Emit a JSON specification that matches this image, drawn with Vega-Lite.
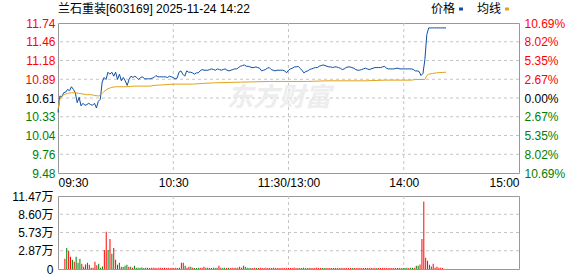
{
  "$schema": "https://vega.github.io/schema/vega-lite/v6.json",
  "autosize": {"type": "pad"},
  "padding": {"left": 11, "top": 2, "right": 0, "bottom": 0},
  "background": "white",
  "config": {
    "font": "Liberation Sans, Noto Sans CJK SC",
    "view": {"stroke": "#999999", "strokeWidth": 1},
    "axis": {"labelFont": "Liberation Sans, Noto Sans CJK SC", "labelFontSize": 12, "ticks": false, "domain": false, "labelOverlap": false, "grid": false},
    "concat": {"spacing": 0}
  },
  "resolve": {"scale": {"color": "independent"}, "legend": {"color": "independent"}},
  "datasets": {
    "lines": [
      {"t":0,"v":10.39,"s":"价格"},{"t":1,"v":10.64,"s":"价格"},{"t":2,"v":10.63,"s":"价格"},{"t":3,"v":10.69,"s":"价格"},{"t":4,"v":10.70,"s":"价格"},{"t":5,"v":10.74,"s":"价格"},{"t":6,"v":10.72,"s":"价格"},{"t":7,"v":10.78,"s":"价格"},{"t":8,"v":10.74,"s":"价格"},{"t":9,"v":10.69,"s":"价格"},
      {"t":10,"v":10.54,"s":"价格"},{"t":11,"v":10.62,"s":"价格"},{"t":12,"v":10.49,"s":"价格"},{"t":13,"v":10.53,"s":"价格"},{"t":14,"v":10.50,"s":"价格"},{"t":15,"v":10.51,"s":"价格"},{"t":16,"v":10.53,"s":"价格"},{"t":17,"v":10.51,"s":"价格"},{"t":18,"v":10.50,"s":"价格"},{"t":19,"v":10.53,"s":"价格"},
      {"t":20,"v":10.46,"s":"价格"},{"t":21,"v":10.56,"s":"价格"},{"t":22,"v":10.59,"s":"价格"},{"t":23,"v":10.85,"s":"价格"},{"t":24,"v":10.92,"s":"价格"},{"t":25,"v":10.89,"s":"价格"},{"t":26,"v":11.00,"s":"价格"},{"t":27,"v":10.97,"s":"价格"},{"t":28,"v":11.00,"s":"价格"},{"t":29,"v":10.94,"s":"价格"},
      {"t":30,"v":11.00,"s":"价格"},{"t":31,"v":10.89,"s":"价格"},{"t":32,"v":10.97,"s":"价格"},{"t":33,"v":10.87,"s":"价格"},{"t":34,"v":10.92,"s":"价格"},{"t":35,"v":10.87,"s":"价格"},{"t":36,"v":10.80,"s":"价格"},{"t":37,"v":10.89,"s":"价格"},{"t":38,"v":10.94,"s":"价格"},{"t":39,"v":10.92,"s":"价格"},
      {"t":40,"v":10.94,"s":"价格"},{"t":41,"v":10.92,"s":"价格"},{"t":42,"v":10.89,"s":"价格"},{"t":43,"v":10.92,"s":"价格"},{"t":44,"v":10.93,"s":"价格"},{"t":45,"v":10.90,"s":"价格"},{"t":46,"v":10.90,"s":"价格"},{"t":47,"v":10.90,"s":"价格"},{"t":48,"v":10.90,"s":"价格"},{"t":49,"v":10.91,"s":"价格"},
      {"t":50,"v":10.92,"s":"价格"},{"t":51,"v":10.95,"s":"价格"},{"t":52,"v":10.93,"s":"价格"},{"t":53,"v":10.93,"s":"价格"},{"t":54,"v":10.93,"s":"价格"},{"t":55,"v":10.93,"s":"价格"},{"t":56,"v":10.93,"s":"价格"},{"t":57,"v":10.92,"s":"价格"},{"t":58,"v":10.94,"s":"价格"},{"t":59,"v":10.93,"s":"价格"},
      {"t":60,"v":10.92,"s":"价格"},{"t":61,"v":10.90,"s":"价格"},{"t":62,"v":10.91,"s":"价格"},{"t":63,"v":11.00,"s":"价格"},{"t":64,"v":11.02,"s":"价格"},{"t":65,"v":10.97,"s":"价格"},{"t":66,"v":10.94,"s":"价格"},{"t":67,"v":11.02,"s":"价格"},{"t":68,"v":11.00,"s":"价格"},{"t":69,"v":11.00,"s":"价格"},
      {"t":70,"v":10.99,"s":"价格"},{"t":71,"v":10.97,"s":"价格"},{"t":72,"v":10.99,"s":"价格"},{"t":73,"v":10.99,"s":"价格"},{"t":74,"v":11.02,"s":"价格"},{"t":75,"v":11.04,"s":"价格"},{"t":76,"v":11.03,"s":"价格"},{"t":77,"v":11.03,"s":"价格"},{"t":78,"v":11.03,"s":"价格"},{"t":79,"v":11.04,"s":"价格"},
      {"t":80,"v":11.05,"s":"价格"},{"t":81,"v":11.04,"s":"价格"},{"t":82,"v":11.03,"s":"价格"},{"t":83,"v":11.05,"s":"价格"},{"t":84,"v":11.04,"s":"价格"},{"t":85,"v":11.03,"s":"价格"},{"t":86,"v":11.04,"s":"价格"},{"t":87,"v":11.05,"s":"价格"},{"t":88,"v":11.03,"s":"价格"},{"t":89,"v":11.02,"s":"价格"},
      {"t":90,"v":11.03,"s":"价格"},{"t":91,"v":11.04,"s":"价格"},{"t":92,"v":11.05,"s":"价格"},{"t":93,"v":11.05,"s":"价格"},{"t":94,"v":11.07,"s":"价格"},{"t":95,"v":11.09,"s":"价格"},{"t":96,"v":11.10,"s":"价格"},{"t":97,"v":11.11,"s":"价格"},{"t":98,"v":11.09,"s":"价格"},{"t":99,"v":11.09,"s":"价格"},
      {"t":100,"v":11.08,"s":"价格"},{"t":101,"v":11.07,"s":"价格"},{"t":102,"v":11.07,"s":"价格"},{"t":103,"v":11.08,"s":"价格"},{"t":104,"v":11.07,"s":"价格"},{"t":105,"v":11.06,"s":"价格"},{"t":106,"v":11.02,"s":"价格"},{"t":107,"v":11.03,"s":"价格"},{"t":108,"v":11.04,"s":"价格"},{"t":109,"v":11.06,"s":"价格"},
      {"t":110,"v":11.07,"s":"价格"},{"t":111,"v":11.04,"s":"价格"},{"t":112,"v":11.03,"s":"价格"},{"t":113,"v":11.02,"s":"价格"},{"t":114,"v":11.03,"s":"价格"},{"t":115,"v":11.03,"s":"价格"},{"t":116,"v":11.03,"s":"价格"},{"t":117,"v":11.03,"s":"价格"},{"t":118,"v":11.02,"s":"价格"},{"t":119,"v":10.99,"s":"价格"},
      {"t":120,"v":11.03,"s":"价格"},{"t":121,"v":11.05,"s":"价格"},{"t":122,"v":11.06,"s":"价格"},{"t":123,"v":11.08,"s":"价格"},{"t":124,"v":11.08,"s":"价格"},{"t":125,"v":11.09,"s":"价格"},{"t":126,"v":11.06,"s":"价格"},{"t":127,"v":11.03,"s":"价格"},{"t":128,"v":10.99,"s":"价格"},{"t":129,"v":11.01,"s":"价格"},
      {"t":130,"v":11.02,"s":"价格"},{"t":131,"v":11.04,"s":"价格"},{"t":132,"v":11.05,"s":"价格"},{"t":133,"v":11.06,"s":"价格"},{"t":134,"v":11.07,"s":"价格"},{"t":135,"v":11.07,"s":"价格"},{"t":136,"v":11.09,"s":"价格"},{"t":137,"v":11.10,"s":"价格"},{"t":138,"v":11.11,"s":"价格"},{"t":139,"v":11.10,"s":"价格"},
      {"t":140,"v":11.09,"s":"价格"},{"t":141,"v":11.08,"s":"价格"},{"t":142,"v":11.08,"s":"价格"},{"t":143,"v":11.07,"s":"价格"},{"t":144,"v":11.08,"s":"价格"},{"t":145,"v":11.08,"s":"价格"},{"t":146,"v":11.07,"s":"价格"},{"t":147,"v":11.06,"s":"价格"},{"t":148,"v":11.04,"s":"价格"},{"t":149,"v":11.05,"s":"价格"},
      {"t":150,"v":11.07,"s":"价格"},{"t":151,"v":11.08,"s":"价格"},{"t":152,"v":11.08,"s":"价格"},{"t":153,"v":11.07,"s":"价格"},{"t":154,"v":11.06,"s":"价格"},{"t":155,"v":11.04,"s":"价格"},{"t":156,"v":11.03,"s":"价格"},{"t":157,"v":11.03,"s":"价格"},{"t":158,"v":11.04,"s":"价格"},{"t":159,"v":11.05,"s":"价格"},
      {"t":160,"v":11.06,"s":"价格"},{"t":161,"v":11.05,"s":"价格"},{"t":162,"v":11.04,"s":"价格"},{"t":163,"v":11.05,"s":"价格"},{"t":164,"v":11.06,"s":"价格"},{"t":165,"v":11.07,"s":"价格"},{"t":166,"v":11.07,"s":"价格"},{"t":167,"v":11.07,"s":"价格"},{"t":168,"v":11.07,"s":"价格"},{"t":169,"v":11.08,"s":"价格"},
      {"t":170,"v":11.09,"s":"价格"},{"t":171,"v":11.06,"s":"价格"},{"t":172,"v":11.05,"s":"价格"},{"t":173,"v":11.05,"s":"价格"},{"t":174,"v":11.05,"s":"价格"},{"t":175,"v":11.05,"s":"价格"},{"t":176,"v":11.06,"s":"价格"},{"t":177,"v":11.06,"s":"价格"},{"t":178,"v":11.05,"s":"价格"},{"t":179,"v":11.05,"s":"价格"},
      {"t":180,"v":11.05,"s":"价格"},{"t":181,"v":11.05,"s":"价格"},{"t":182,"v":11.05,"s":"价格"},{"t":183,"v":11.05,"s":"价格"},{"t":184,"v":11.05,"s":"价格"},{"t":185,"v":11.04,"s":"价格"},{"t":186,"v":11.02,"s":"价格"},{"t":187,"v":11.02,"s":"价格"},{"t":188,"v":11.01,"s":"价格"},{"t":189,"v":10.95,"s":"价格"},
      {"t":190,"v":10.98,"s":"价格"},{"t":191,"v":11.19,"s":"价格"},{"t":192,"v":11.57,"s":"价格"},{"t":193,"v":11.67,"s":"价格"},{"t":194,"v":11.67,"s":"价格"},{"t":195,"v":11.67,"s":"价格"},{"t":196,"v":11.67,"s":"价格"},{"t":197,"v":11.67,"s":"价格"},{"t":198,"v":11.67,"s":"价格"},{"t":199,"v":11.67,"s":"价格"},
      {"t":200,"v":11.67,"s":"价格"},{"t":201,"v":11.67,"s":"价格"},{"t":202,"v":11.67,"s":"价格"},
      {"t":0,"v":10.44,"s":"均线"},{"t":1,"v":10.59,"s":"均线"},{"t":2,"v":10.63,"s":"均线"},{"t":3,"v":10.66,"s":"均线"},{"t":4,"v":10.67,"s":"均线"},{"t":5,"v":10.68,"s":"均线"},{"t":7,"v":10.69,"s":"均线"},{"t":9,"v":10.69,"s":"均线"},{"t":11,"v":10.68,"s":"均线"},{"t":13,"v":10.67,"s":"均线"},
      {"t":15,"v":10.66,"s":"均线"},{"t":17,"v":10.66,"s":"均线"},{"t":19,"v":10.65,"s":"均线"},{"t":21,"v":10.64,"s":"均线"},{"t":22,"v":10.65,"s":"均线"},{"t":23,"v":10.68,"s":"均线"},{"t":24,"v":10.71,"s":"均线"},{"t":25,"v":10.73,"s":"均线"},{"t":26,"v":10.75,"s":"均线"},{"t":27,"v":10.76,"s":"均线"},
      {"t":28,"v":10.77,"s":"均线"},{"t":30,"v":10.78,"s":"均线"},{"t":35,"v":10.78,"s":"均线"},{"t":40,"v":10.79,"s":"均线"},{"t":48,"v":10.79,"s":"均线"},{"t":50,"v":10.80,"s":"均线"},{"t":55,"v":10.81,"s":"均线"},{"t":60,"v":10.82,"s":"均线"},{"t":70,"v":10.82,"s":"均线"},{"t":75,"v":10.83,"s":"均线"},
      {"t":82,"v":10.84,"s":"均线"},{"t":95,"v":10.85,"s":"均线"},{"t":110,"v":10.86,"s":"均线"},{"t":130,"v":10.86,"s":"均线"},{"t":140,"v":10.87,"s":"均线"},{"t":160,"v":10.87,"s":"均线"},{"t":170,"v":10.88,"s":"均线"},{"t":184,"v":10.88,"s":"均线"},{"t":186,"v":10.89,"s":"均线"},{"t":191,"v":10.89,"s":"均线"},
      {"t":192,"v":10.95,"s":"均线"},{"t":193,"v":10.97,"s":"均线"},{"t":195,"v":10.98,"s":"均线"},{"t":197,"v":10.99,"s":"均线"},{"t":202,"v":11.00,"s":"均线"}
    ],
    "vol": [
      {"t":1,"v":1.60,"d":"up"},{"t":2,"v":3.31,"d":"down"},{"t":3,"v":2.84,"d":"up"},{"t":4,"v":1.91,"d":"up"},{"t":5,"v":1.45,"d":"down"},{"t":6,"v":1.14,"d":"up"},{"t":7,"v":1.91,"d":"down"},{"t":8,"v":0.98,"d":"down"},{"t":9,"v":1.60,"d":"down"},{"t":10,"v":0.83,"d":"up"},
      {"t":11,"v":0.35,"d":"up"},{"t":12,"v":0.72,"d":"down"},{"t":13,"v":0.98,"d":"down"},{"t":14,"v":0.67,"d":"up"},{"t":15,"v":0.20,"d":"down"},{"t":16,"v":0.20,"d":"up"},{"t":17,"v":1.14,"d":"up"},{"t":18,"v":0.57,"d":"up"},{"t":19,"v":0.83,"d":"down"},{"t":20,"v":0.20,"d":"down"},
      {"t":21,"v":0.41,"d":"down"},{"t":22,"v":3.00,"d":"up"},{"t":23,"v":5.84,"d":"up"},{"t":24,"v":3.00,"d":"down"},{"t":25,"v":4.70,"d":"up"},{"t":26,"v":2.38,"d":"down"},{"t":27,"v":3.31,"d":"up"},{"t":28,"v":1.45,"d":"down"},{"t":29,"v":0.67,"d":"up"},{"t":30,"v":0.98,"d":"down"},
      {"t":31,"v":0.36,"d":"up"},{"t":32,"v":0.30,"d":"down"},{"t":33,"v":0.52,"d":"down"},{"t":34,"v":0.67,"d":"down"},{"t":35,"v":0.36,"d":"up"},{"t":36,"v":0.36,"d":"down"},{"t":37,"v":0.20,"d":"up"},{"t":38,"v":0.52,"d":"down"},{"t":39,"v":0.20,"d":"down"},{"t":40,"v":0.20,"d":"down"},
      {"t":41,"v":0.20,"d":"down"},{"t":42,"v":0.25,"d":"down"},{"t":43,"v":0.15,"d":"down"},{"t":44,"v":0.20,"d":"up"},{"t":45,"v":0.20,"d":"down"},{"t":46,"v":0.15,"d":"down"},{"t":47,"v":0.20,"d":"up"},{"t":48,"v":0.20,"d":"up"},{"t":49,"v":0.20,"d":"up"},{"t":50,"v":0.15,"d":"up"},
      {"t":51,"v":0.20,"d":"up"},{"t":52,"v":0.20,"d":"up"},{"t":53,"v":0.15,"d":"up"},{"t":54,"v":0.20,"d":"up"},{"t":55,"v":0.15,"d":"up"},{"t":56,"v":0.20,"d":"up"},{"t":57,"v":0.15,"d":"up"},{"t":58,"v":0.20,"d":"up"},{"t":59,"v":0.15,"d":"up"},{"t":60,"v":0.20,"d":"up"},
      {"t":61,"v":0.15,"d":"down"},{"t":62,"v":0.20,"d":"up"},{"t":63,"v":0.98,"d":"up"},{"t":64,"v":0.98,"d":"up"},{"t":65,"v":0.52,"d":"down"},{"t":66,"v":0.20,"d":"up"},{"t":67,"v":0.36,"d":"up"},{"t":68,"v":0.36,"d":"down"},{"t":69,"v":0.20,"d":"up"},{"t":70,"v":0.15,"d":"down"},
      {"t":71,"v":0.15,"d":"down"},{"t":72,"v":0.20,"d":"down"},{"t":73,"v":0.20,"d":"up"},{"t":74,"v":0.20,"d":"up"},{"t":75,"v":0.36,"d":"up"},{"t":76,"v":0.20,"d":"down"},{"t":77,"v":0.20,"d":"up"},{"t":78,"v":0.15,"d":"down"},{"t":79,"v":0.15,"d":"down"},{"t":80,"v":0.20,"d":"down"},
      {"t":81,"v":0.15,"d":"down"},{"t":82,"v":0.20,"d":"down"},{"t":83,"v":0.52,"d":"up"},{"t":84,"v":0.20,"d":"up"},{"t":85,"v":0.15,"d":"down"},{"t":86,"v":0.20,"d":"down"},{"t":87,"v":0.15,"d":"up"},{"t":88,"v":0.20,"d":"down"},{"t":89,"v":0.15,"d":"up"},{"t":90,"v":0.20,"d":"up"},
      {"t":91,"v":0.15,"d":"up"},{"t":92,"v":0.20,"d":"up"},{"t":93,"v":0.20,"d":"up"},{"t":94,"v":0.36,"d":"up"},{"t":95,"v":0.20,"d":"up"},{"t":96,"v":0.52,"d":"up"},{"t":97,"v":0.36,"d":"down"},{"t":98,"v":0.20,"d":"down"},{"t":99,"v":0.15,"d":"down"},{"t":100,"v":0.15,"d":"down"},
      {"t":101,"v":0.15,"d":"up"},{"t":102,"v":0.20,"d":"up"},{"t":103,"v":0.15,"d":"down"},{"t":104,"v":0.15,"d":"up"},{"t":105,"v":0.20,"d":"up"},{"t":106,"v":0.15,"d":"up"},{"t":107,"v":0.15,"d":"up"},{"t":108,"v":0.20,"d":"up"},{"t":109,"v":0.15,"d":"up"},{"t":110,"v":0.15,"d":"up"},
      {"t":111,"v":0.15,"d":"up"},{"t":112,"v":0.20,"d":"up"},{"t":113,"v":0.15,"d":"up"},{"t":114,"v":0.15,"d":"up"},{"t":115,"v":0.15,"d":"up"},{"t":116,"v":0.15,"d":"up"},{"t":117,"v":0.15,"d":"up"},{"t":118,"v":0.15,"d":"up"},{"t":119,"v":0.15,"d":"up"},{"t":120,"v":0.15,"d":"up"},
      {"t":121,"v":0.15,"d":"up"},{"t":122,"v":0.15,"d":"up"},{"t":123,"v":0.20,"d":"up"},{"t":124,"v":0.15,"d":"up"},{"t":125,"v":0.15,"d":"up"},{"t":126,"v":0.15,"d":"down"},{"t":127,"v":0.15,"d":"down"},{"t":128,"v":0.20,"d":"up"},{"t":129,"v":0.15,"d":"up"},{"t":130,"v":0.15,"d":"down"},
      {"t":131,"v":0.15,"d":"down"},{"t":132,"v":0.15,"d":"up"},{"t":133,"v":0.15,"d":"up"},{"t":134,"v":0.15,"d":"up"},{"t":135,"v":0.20,"d":"up"},{"t":136,"v":0.15,"d":"up"},{"t":137,"v":0.15,"d":"up"},{"t":138,"v":0.15,"d":"down"},{"t":139,"v":0.15,"d":"down"},{"t":140,"v":0.15,"d":"up"},
      {"t":141,"v":0.15,"d":"up"},{"t":142,"v":0.15,"d":"up"},{"t":143,"v":0.15,"d":"down"},{"t":144,"v":0.15,"d":"up"},{"t":145,"v":0.15,"d":"up"},{"t":146,"v":0.15,"d":"up"},{"t":147,"v":0.15,"d":"down"},{"t":148,"v":0.15,"d":"up"},{"t":149,"v":0.15,"d":"up"},{"t":150,"v":0.15,"d":"up"},
      {"t":151,"v":0.15,"d":"up"},{"t":152,"v":0.15,"d":"up"},{"t":153,"v":0.15,"d":"up"},{"t":154,"v":0.15,"d":"down"},{"t":155,"v":0.15,"d":"up"},{"t":156,"v":0.15,"d":"up"},{"t":157,"v":0.15,"d":"up"},{"t":158,"v":0.15,"d":"up"},{"t":159,"v":0.15,"d":"up"},{"t":160,"v":0.15,"d":"up"},
      {"t":161,"v":0.15,"d":"up"},{"t":162,"v":0.15,"d":"up"},{"t":163,"v":0.15,"d":"up"},{"t":164,"v":0.15,"d":"up"},{"t":165,"v":0.15,"d":"up"},{"t":166,"v":0.15,"d":"up"},{"t":167,"v":0.15,"d":"down"},{"t":168,"v":0.15,"d":"up"},{"t":169,"v":0.15,"d":"up"},{"t":170,"v":0.15,"d":"up"},
      {"t":171,"v":0.15,"d":"up"},{"t":172,"v":0.15,"d":"up"},{"t":173,"v":0.15,"d":"up"},{"t":174,"v":0.15,"d":"up"},{"t":175,"v":0.15,"d":"up"},{"t":176,"v":0.15,"d":"up"},{"t":177,"v":0.15,"d":"up"},{"t":178,"v":0.15,"d":"up"},{"t":179,"v":0.15,"d":"up"},{"t":180,"v":0.15,"d":"up"},
      {"t":181,"v":0.15,"d":"down"},{"t":182,"v":0.15,"d":"down"},{"t":183,"v":0.20,"d":"down"},{"t":184,"v":0.15,"d":"up"},{"t":185,"v":0.20,"d":"down"},{"t":186,"v":0.20,"d":"down"},{"t":187,"v":0.20,"d":"up"},{"t":188,"v":0.52,"d":"down"},{"t":189,"v":0.52,"d":"down"},{"t":190,"v":0.72,"d":"up"},
      {"t":191,"v":4.70,"d":"up"},{"t":192,"v":10.60,"d":"up"},{"t":193,"v":1.76,"d":"up"},{"t":194,"v":1.29,"d":"up"},{"t":195,"v":0.67,"d":"up"},{"t":196,"v":0.41,"d":"down"},{"t":197,"v":0.83,"d":"up"},{"t":198,"v":0.20,"d":"up"},{"t":199,"v":0.36,"d":"up"},{"t":200,"v":0.20,"d":"up"},
      {"t":201,"v":0.20,"d":"up"},{"t":202,"v":0.15,"d":"up"}
    ]
  },
  "vconcat": [
    {
      "width": 461,
      "height": 150,
      "title": {"text": "兰石重装[603169] 2025-11-24 14:22", "anchor": "start", "frame": "group", "fontSize": 12, "fontWeight": "normal", "font": "Liberation Sans, Noto Sans CJK SC", "offset": -13, "color": "#000000"},
      "layer": [
        {
          "data": {"values": [{"g": 9.7595}, {"g": 10.043}, {"g": 10.3265}, {"g": 10.61}, {"g": 10.8935}, {"g": 11.177}, {"g": 11.4605}]},
          "mark": {"type": "rule", "color": "#c4c4c4", "strokeDash": [3, 3], "strokeWidth": 1},
          "encoding": {
            "y": {"field": "g", "type": "quantitative", "scale": {"domain": [9.476, 11.744], "nice": false, "zero": false}, "axis": null}
          }
        },
        {
          "data": {"values": [{"g": 60}, {"g": 120}, {"g": 180}]},
          "mark": {"type": "rule", "color": "#c4c4c4", "strokeDash": [3, 3], "strokeWidth": 1},
          "encoding": {
            "x": {"field": "g", "type": "quantitative", "scale": {"domain": [0, 240], "nice": false, "zero": false}, "axis": null}
          }
        },
        {
          "data": {"values": [{"wm": "东方财富"}]},
          "mark": {"type": "text", "fontSize": 26, "fontStyle": "italic", "fontWeight": "bold", "color": "#ededed", "font": "Noto Sans CJK SC"},
          "encoding": {
            "x": {"datum": 115, "type": "quantitative", "scale": {"domain": [0, 240], "nice": false, "zero": false}, "axis": null},
            "y": {"datum": 10.61, "type": "quantitative", "scale": {"domain": [9.476, 11.744], "nice": false, "zero": false}, "axis": null},
            "text": {"field": "wm", "type": "nominal"}
          }
        },
        {
          "data": {"name": "lines"},
          "mark": {"type": "line", "strokeWidth": 1},
          "encoding": {
            "x": {"field": "t", "type": "quantitative", "scale": {"domain": [0, 240], "nice": false, "zero": false},
              "axis": {"title": null, "orient": "bottom", "values": [0, 60, 120, 180, 240], "labelExpr": "datum.value == 0 ? '09:30' : datum.value == 60 ? '10:30' : datum.value == 120 ? '11:30/13:00' : datum.value == 180 ? '14:00' : '15:00'", "labelFlush": true, "labelPadding": 4, "labelColor": "#000000", "grid": false}},
            "y": {"field": "v", "type": "quantitative", "scale": {"domain": [9.476, 11.744], "nice": false, "zero": false},
              "axis": {"title": null, "orient": "left", "values": [9.476, 9.7595, 10.043, 10.3265, 10.61, 10.8935, 11.177, 11.4605, 11.744], "labelExpr": "format(datum.value, '.2f')", "labelPadding": 3, "grid": false, "labelOverlap": false,
                "labelColor": {"condition": [{"test": "datum.value > 10.62", "value": "#ff0000"}, {"test": "datum.value < 10.6", "value": "#008000"}], "value": "#000000"}}},
            "color": {"field": "s", "type": "nominal", "scale": {"domain": ["价格", "均线"], "range": ["#0e4ea3", "#e3a31b"]},
              "legend": {"orient": "none", "legendX": 397, "legendY": -20, "direction": "horizontal", "title": null, "symbolType": "stroke", "symbolSize": 16, "symbolStrokeWidth": 3, "labelAlign": "right", "labelOffset": -12, "labelFontSize": 12, "labelFont": "Liberation Sans, Noto Sans CJK SC", "labelColor": "#000000", "columnPadding": 7}}
          }
        },
        {
          "data": {"values": [{"pct": -10.69}, {"pct": 10.69}]},
          "mark": {"type": "point", "opacity": 0},
          "encoding": {
            "y": {"field": "pct", "type": "quantitative", "scale": {"domain": [-10.69, 10.69], "nice": false, "zero": false},
              "axis": {"title": null, "orient": "right", "values": [-10.69, -8.02, -5.35, -2.67, 0, 2.67, 5.35, 8.02, 10.69], "labelExpr": "format(abs(datum.value), '.2f') + '%'", "labelPadding": 5, "grid": false, "labelOverlap": false,
                "labelColor": {"condition": [{"test": "datum.value > 0.1", "value": "#ff0000"}, {"test": "datum.value < -0.1", "value": "#008000"}], "value": "#000000"}}}
          }
        }
      ],
      "resolve": {"scale": {"x": "independent", "y": "independent"}, "axis": {"x": "independent", "y": "independent"}}
    },
    {
      "width": 461,
      "height": 73,
      "layer": [
        {
          "data": {"values": [{"g": 2.87}, {"g": 5.73}, {"g": 8.60}]},
          "mark": {"type": "rule", "color": "#c4c4c4", "strokeDash": [3, 3], "strokeWidth": 1},
          "encoding": {
            "y": {"field": "g", "type": "quantitative", "scale": {"domain": [0, 11.47], "nice": false}, "axis": null}
          }
        },
        {
          "data": {"values": [{"g": 60}, {"g": 120}, {"g": 180}]},
          "mark": {"type": "rule", "color": "#c4c4c4", "strokeDash": [3, 3], "strokeWidth": 1},
          "encoding": {
            "x": {"field": "g", "type": "quantitative", "scale": {"domain": [0, 240], "nice": false, "zero": false}, "axis": null}
          }
        },
        {
          "data": {"name": "vol"},
          "mark": {"type": "bar", "size": 1},
          "encoding": {
            "x": {"field": "t", "type": "quantitative", "scale": {"domain": [0, 240], "nice": false, "zero": false}, "axis": null},
            "y": {"field": "v", "type": "quantitative", "scale": {"domain": [0, 11.47], "nice": false},
              "axis": {"title": null, "orient": "left", "values": [0, 2.87, 5.73, 8.60, 11.47], "labelExpr": "datum.value == 0 ? '0' : format(datum.value, '.2f') + '万'", "labelPadding": 5, "labelColor": "#000000", "grid": false, "labelOverlap": false}},
            "color": {"field": "d", "type": "nominal", "scale": {"domain": ["up", "down"], "range": ["#ff0000", "#008000"]}, "legend": null}
          }
        }
      ],
      "resolve": {"scale": {"x": "independent", "y": "independent"}, "axis": {"x": "independent", "y": "independent"}}
    }
  ]
}
